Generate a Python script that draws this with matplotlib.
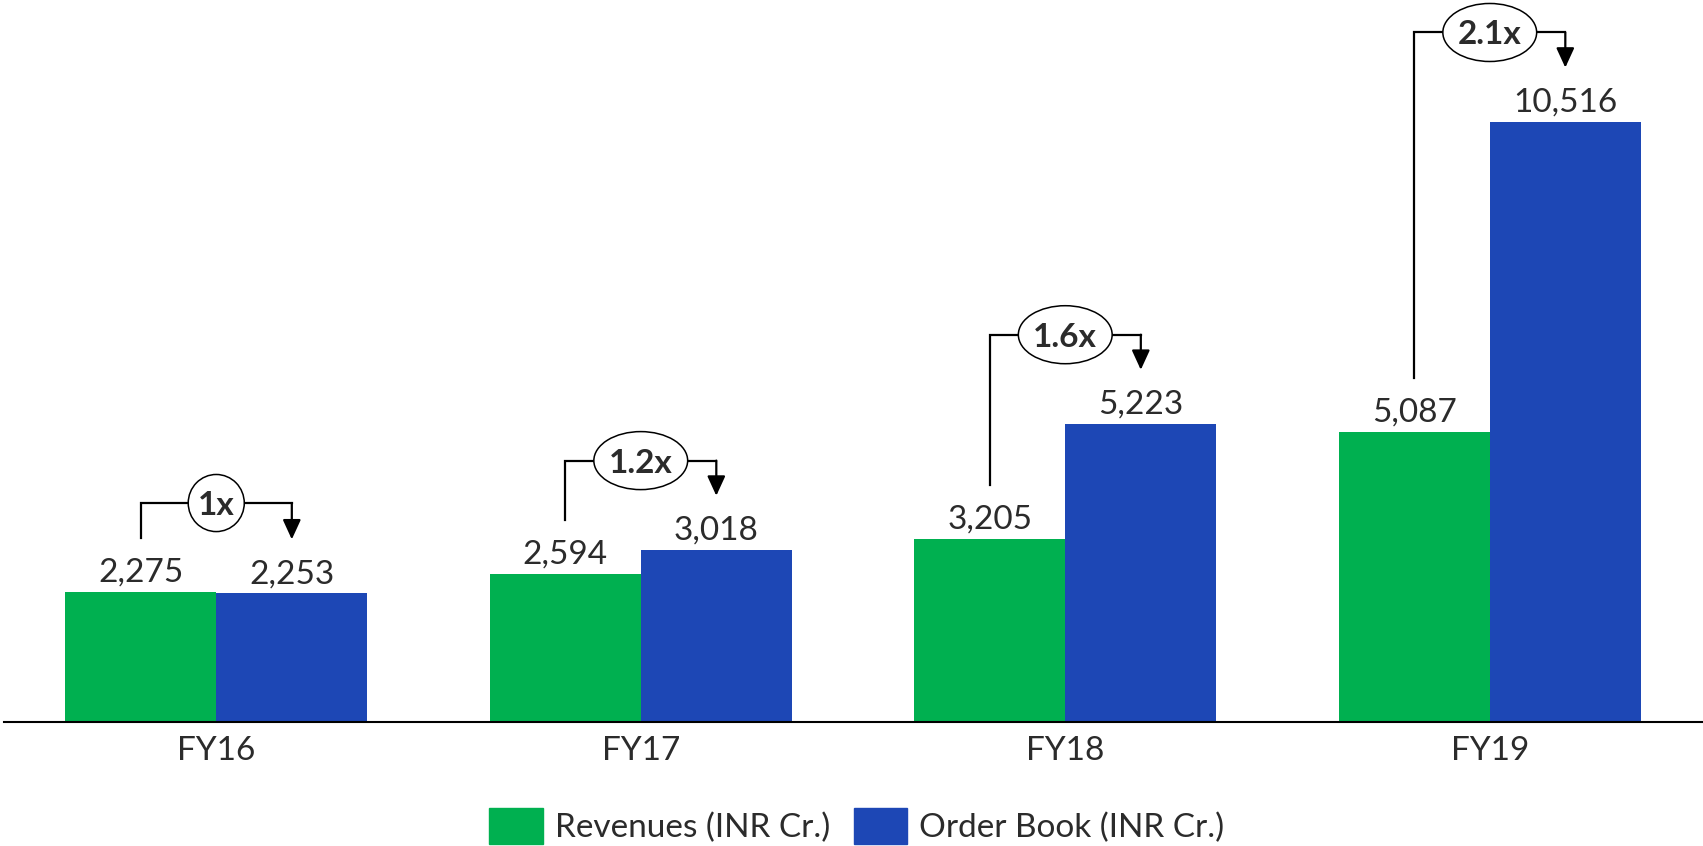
import matplotlib
matplotlib.use('Agg')
import matplotlib.pyplot as plt
from matplotlib.patches import Ellipse, Patch
import numpy as np

plt.rcParams['font.family'] = ['Lato', 'DejaVu Sans']

### Data

years = ['FY16', 'FY17', 'FY18', 'FY19']
revenues = [2275, 2594, 3205, 5087]
order_book = [2253, 3018, 5223, 10516]
ratios = ['1x', '1.2x', '1.6x', '2.1x']

green = '#00B050'
blue = '#1D47B5'
text_col = '#2b2b2b'
fs = 24

### Figure

fig = plt.figure(figsize=(17.03, 8.46), dpi=100)
ax = fig.add_axes([4 / 1703, 124 / 846, 1698 / 1703, 722 / 846])

x = np.arange(len(years))
w = 0.356
bars_r = ax.bar(x - w / 2, revenues, width=w, color=green)
bars_o = ax.bar(x + w / 2, order_book, width=w, color=blue)

ax.bar_label(bars_r, labels=[f'{v:,}' for v in revenues], padding=3, fontsize=fs, color=text_col)
ax.bar_label(bars_o, labels=[f'{v:,}' for v in order_book], padding=3, fontsize=fs, color=text_col)

ax.set_xlim(-0.5, len(years) - 0.5)
ax.set_ylim(0, 12645)

ax.set_xticks(x)
ax.set_xticklabels(years, fontsize=fs, color=text_col)
ax.tick_params(axis='x', length=0, pad=10)
ax.set_yticks([])
for s in ['top', 'left', 'right']:
    ax.spines[s].set_visible(False)
ax.spines['bottom'].set_linewidth(1.5)
ax.spines['bottom'].set_color('black')

# bracket annotations: revenue -> order book multiple
gap = 945
rise = 1560
for i, lab in enumerate(ratios):
    xg, xb = x[i] - w / 2, x[i] + w / 2
    yh = max(revenues[i], order_book[i]) + rise
    ax.plot([xg, xg, xb], [revenues[i] + gap, yh, yh], color='black', lw=1.6, zorder=2,
            solid_joinstyle='miter')
    ax.annotate('', xy=(xb, order_book[i] + gap), xytext=(xb, yh),
                arrowprops=dict(arrowstyle='-|>,head_length=1.2,head_width=0.55', color='black',
                                lw=1.6, shrinkA=0, shrinkB=0, mutation_scale=10), zorder=2)
    ew = 0.132 if len(lab) <= 2 else 0.221
    eh = 1000 if len(lab) <= 2 else 1016
    ax.add_patch(Ellipse((x[i], yh), ew, eh, facecolor='white', edgecolor='black', lw=1.1, zorder=3))
    ax.text(x[i], yh, lab, ha='center', va='center_baseline', fontsize=fs, fontweight='bold',
            color=text_col, zorder=4)

handles = [Patch(color=green, label='Revenues (INR Cr.)'),
           Patch(color=blue, label='Order Book (INR Cr.)')]
fig.legend(handles=handles, loc='center', bbox_to_anchor=(857 / 1703, 20 / 846), ncol=2,
           frameon=False, fontsize=fs, handlelength=1.6, handleheight=1.25,
           handletextpad=0.36, columnspacing=0.72, borderpad=0, labelcolor=text_col)

fig.savefig('out.png', dpi=100)
